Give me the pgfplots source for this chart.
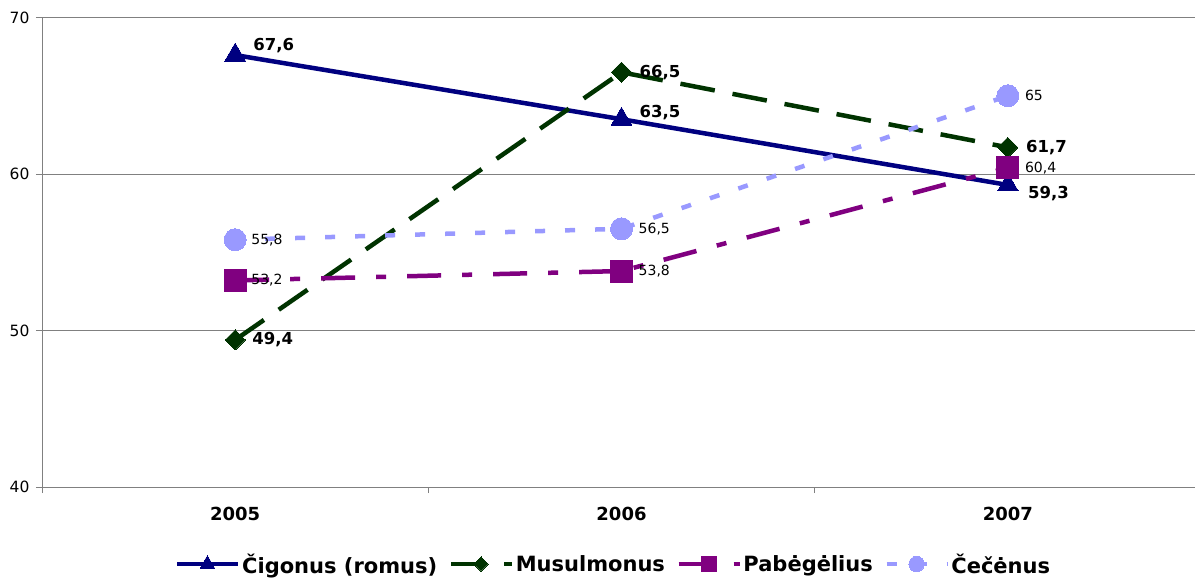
\documentclass[border=0pt]{standalone}
\usepackage{fontspec}
\setmainfont{DejaVu Sans}
\usepackage{pgfplots}
\pgfplotsset{compat=1.18}
\definecolor{cnavy}{HTML}{000080}
\definecolor{cgreen}{HTML}{003300}
\definecolor{cpurple}{HTML}{800080}
\definecolor{clight}{HTML}{9999FF}
\definecolor{cgrid}{HTML}{808080}
\tikzset{
  lblb/.style={anchor=west, inner sep=0pt, font=\bfseries\fontsize{16.5}{18}\selectfont},
  lbls/.style={anchor=west, inner sep=0pt, font=\fontsize{14}{16}\selectfont},
}
\begin{document}
\begin{tikzpicture}
\begin{axis}[
  scale only axis, width=1159pt, height=469.5pt,
  xmin=-0.5, xmax=2.5, ymin=40, ymax=70,
  axis x line*=bottom, axis y line*=left,
  axis line style={draw=cgrid, line width=1pt, -},
  ytick={40,50,60,70}, ymajorgrids,
  grid style={cgrid, line width=1pt},
  xtick={-0.5,0.5,1.5,2.5}, xticklabels={},
  extra x ticks={0,1,2},
  extra x tick labels={2005,2006,2007},
  extra x tick style={major tick length=0pt, grid=none,
    tick label style={font=\bfseries\fontsize{18}{20}\selectfont, yshift=-17pt}},
  tick align=outside, major tick length=6pt,
  tick style={cgrid, line width=1pt},
  yticklabel style={font=\fontsize{15.5}{17}\selectfont, xshift=-3pt},
  /pgf/number format/assume math mode=true,
  clip=false,
  legend columns=4,
  legend style={at={(0.493,0)}, anchor=center, yshift=-77pt, draw=none,
    font=\bfseries\fontsize{21}{24}\selectfont,
    /tikz/every even column/.append style={column sep=10pt},
    nodes={inner sep=1.5pt}},
  legend image code/.code={\draw[mark repeat=2,mark phase=2,
    every mark/.append style={scale=0.7}]
    plot coordinates {(0pt,0pt) (30pt,0pt) (61pt,0pt)};},
]
\addplot[cnavy, line width=4.5pt, mark=triangle*, mark size=12pt,
  mark options={solid, fill=cnavy, line width=0pt}]
  coordinates {(0,67.6) (1,63.5) (2,59.3)};
\addlegendentry{Čigonus (romus)}
\addplot[cgreen, line width=4.5pt, dash pattern=on 35pt off 18pt,
  mark=square*, mark size=7.1pt,
  mark options={solid, fill=cgreen, rotate=45, line width=0pt}]
  coordinates {(0,49.4) (1,66.5) (2,61.7)};
\addlegendentry{Musulmonus}
\addplot[cpurple, line width=4.5pt, dash pattern=on 34pt off 21pt on 10pt off 21pt,
  mark=square*, mark size=11pt,
  mark options={solid, fill=cpurple, line width=0pt}]
  coordinates {(0,53.2) (1,53.8) (2,60.4)};
\addlegendentry{Pabėgėlius}
\addplot[clight, line width=4.5pt, dash pattern=on 10pt off 20pt,
  mark=*, mark size=11pt,
  mark options={solid, fill=clight, line width=0pt}]
  coordinates {(0,55.8) (1,56.5) (2,65)};
\addlegendentry{Čečėnus}
\node[lblb, xshift=18pt, yshift=10pt] at (axis cs:0,67.6) {67,6};
\node[lblb, xshift=18pt, yshift=7pt] at (axis cs:1,63.5) {63,5};
\node[lblb, xshift=20pt, yshift=-9pt] at (axis cs:2,59.3) {59,3};
\node[lblb, xshift=17pt] at (axis cs:0,49.4) {49,4};
\node[lblb, xshift=18pt] at (axis cs:1,66.5) {66,5};
\node[lblb, xshift=18pt] at (axis cs:2,61.7) {61,7};
\node[lbls, xshift=16pt] at (axis cs:0,53.2) {53,2};
\node[lbls, xshift=17pt] at (axis cs:1,53.8) {53,8};
\node[lbls, xshift=17pt] at (axis cs:2,60.4) {60,4};
\node[lbls, xshift=16pt] at (axis cs:0,55.8) {55,8};
\node[lbls, xshift=17pt] at (axis cs:1,56.5) {56,5};
\node[lbls, xshift=17pt] at (axis cs:2,65) {65};
\coordinate (bbsw) at (rel axis cs:0,0);
\coordinate (bbne) at (rel axis cs:1,1);
\end{axis}
\pgfresetboundingbox
\path ([shift={(-42pt,-91pt)}]bbsw) rectangle ([shift={(-6pt,17.5pt)}]bbne);
\end{tikzpicture}
\end{document}
